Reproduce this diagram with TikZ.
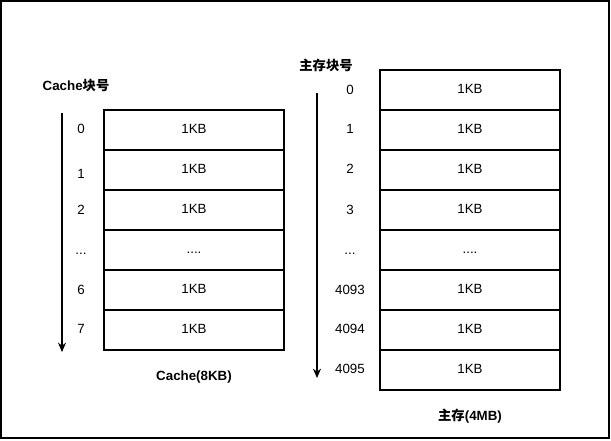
\documentclass[tikz,border=0pt]{standalone}
\usepackage{fontspec}
\setmainfont{Liberation Sans}
\newfontfamily\cjk{Noto Sans CJK SC}
\usetikzlibrary{positioning,arrows.meta}

\begin{document}
\begin{tikzpicture}[x=0.75pt,y=-0.75pt,font=\fontsize{10}{12}\selectfont,
    every node/.style={text height=7pt,text depth=2pt},
    blk/.style={draw,line width=0.8pt,minimum width=135pt,minimum height=30pt,inner sep=0pt,outer sep=0pt},
    title/.style={font=\bfseries\fontsize{10}{12}\selectfont,inner sep=0pt}]
    \useasboundingbox (0,0) rectangle (611,441);
    \draw[line width=0.8pt] (1,1) rectangle (609,438);
    % Cache
    \node[title] at (76,87) (ctitle) {Cache\cjk 块号};
    \node[blk] at (194,130) (c0) {1KB};
    \node[blk, below=0pt of c0] (c1) {1KB};
    \node[blk, below=0pt of c1] (c2) {1KB};
    \node[blk, below=0pt of c2] (c3) {....};
    \node[blk, below=0pt of c3] (c6) {1KB};
    \node[blk, below=0pt of c6] (c7) {1KB};
    \node at (81,130) (cn0) {0};
    \node at (81,175) (cn1) {1};
    \node at (81,211) (cn2) {2};
    \node at (81,251) (cn3) {...};
    \node at (81,291) (cn6) {6};
    \node at (81,330) (cn7) {7};
    \node[title] at (194,377) (cname) {Cache(8KB)};
    \coordinate (ctop) at (62,113);
    \coordinate (cend) at (62,352);
    \draw[-{Stealth[length=7pt,width=6pt]},line width=0.8pt] (ctop) -- (cend);
    % main memory
    \node[title] at (326,67) (mtitle) {\cjk 主存块号};
    \node[blk] at (470,90) (m0) {1KB};
    \node[blk, below=0pt of m0] (m1) {1KB};
    \node[blk, below=0pt of m1] (m2) {1KB};
    \node[blk, below=0pt of m2] (m3) {1KB};
    \node[blk, below=0pt of m3] (m4) {....};
    \node[blk, below=0pt of m4] (m93) {1KB};
    \node[blk, below=0pt of m93] (m94) {1KB};
    \node[blk, below=0pt of m94] (m95) {1KB};
    \node at (350,91) (mn0) {0};
    \node at (350,130) (mn1) {1};
    \node at (350,170) (mn2) {2};
    \node at (350,211) (mn3) {3};
    \node at (350,251) (mn4) {...};
    \node at (350,291) (mn93) {4093};
    \node at (350,330) (mn94) {4094};
    \node at (350,370) (mn95) {4095};
    \node[title] at (470,417) (mname) {{\cjk 主存}(4MB)};
    \coordinate (mtop) at (317,93);
    \coordinate (mend) at (317,378);
    \draw[-{Stealth[length=7pt,width=6pt]},line width=0.8pt] (mtop) -- (mend);
\end{tikzpicture}
\end{document}
